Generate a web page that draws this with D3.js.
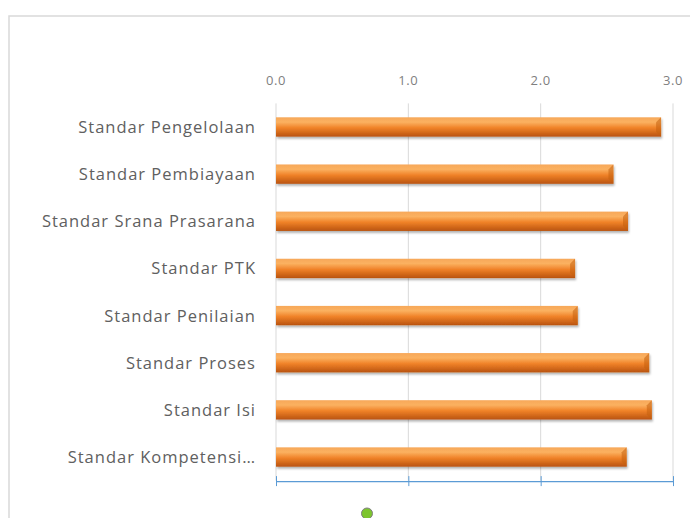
<!DOCTYPE html>
<html>
<head>
  <script src="https://cdnjs.cloudflare.com/ajax/libs/d3/7.8.5/d3.min.js"></script>
  <style>
    body { margin: 0; background: #fff; }
    svg { display: block; }
  </style>
</head>
<body>
  <div id="chart"></div>
  <script>
    // chart data, top to bottom
    var categories = ["Standar Pengelolaan", "Standar Pembiayaan", "Standar Srana Prasarana",
      "Standar PTK", "Standar Penilaian", "Standar Proses", "Standar Isi", "Standar Kompetensi\u2026"];
    var values = [2.91, 2.55, 2.66, 2.26, 2.28, 2.82, 2.84, 2.65];
    var tickValues = [0, 1, 2, 3];

    var width = 690, height = 518;
    var plotLeft = 276, plotRight = 673, plotTop = 103.4, plotBottom = 480.6;

    var svg = d3.select("#chart").append("svg")
      .attr("width", width)
      .attr("height", height);

    var defs = svg.append("defs");
    var grad = defs.append("linearGradient")
      .attr("id", "barGrad")
      .attr("x1", 0).attr("y1", 0).attr("x2", 0).attr("y2", 1);
    grad.append("stop").attr("offset", "0%").attr("stop-color", "#f7a859");
    grad.append("stop").attr("offset", "25%").attr("stop-color", "#fbb160");
    grad.append("stop").attr("offset", "55%").attr("stop-color", "#f08228");
    grad.append("stop").attr("offset", "100%").attr("stop-color", "#b9530f");

    var shadow = defs.append("filter").attr("id", "shadow")
      .attr("x", "-5%").attr("y", "-30%").attr("width", "110%").attr("height", "180%");
    shadow.append("feDropShadow")
      .attr("dx", 1).attr("dy", 2).attr("stdDeviation", 1.2)
      .attr("flood-color", "#000").attr("flood-opacity", 0.3);

    // chart frame
    svg.append("path")
      .attr("d", "M9," + height + "V16H" + width)
      .attr("fill", "none")
      .attr("stroke", "#d9d9d9")
      .attr("stroke-width", 1.5);

    var x = d3.scaleLinear().domain([0, 3]).range([plotLeft, plotRight]);
    var y = d3.scaleBand().domain(categories).range([plotTop, plotBottom])
      .paddingInner(0.59).paddingOuter(0.295);

    // gridlines
    svg.append("g").selectAll("line")
      .data(tickValues)
      .join("line")
      .attr("x1", d => x(d)).attr("x2", d => x(d))
      .attr("y1", plotTop).attr("y2", plotBottom)
      .attr("stroke", "#d9d9d9");

    // top tick labels
    svg.append("g").selectAll("text")
      .data(tickValues)
      .join("text")
      .attr("x", d => x(d))
      .attr("y", 85)
      .attr("text-anchor", "middle")
      .attr("font-family", "Open Sans, sans-serif")
      .attr("font-size", 13)
      .attr("letter-spacing", 0.6)
      .attr("fill", "#7f7f7f")
      .text(d => d3.format(".1f")(d));

    // bottom axis (no labels)
    var axis = svg.append("g")
      .attr("transform", "translate(0," + (plotBottom + 0.5) + ")")
      .call(d3.axisBottom(x).tickValues(tickValues).tickFormat("").tickSize(5).tickSizeOuter(0));
    axis.select(".domain").attr("stroke", "#5b9bd5").attr("stroke-width", 1.2);
    axis.selectAll(".tick line").attr("stroke", "#5b9bd5").attr("y1", -5).attr("y2", 5);

    // category labels
    svg.append("g").selectAll("text")
      .data(categories)
      .join("text")
      .attr("x", 256)
      .attr("y", d => y(d) + y.bandwidth() / 2)
      .attr("dy", "0.36em")
      .attr("text-anchor", "end")
      .attr("font-family", "Open Sans, sans-serif")
      .attr("font-size", 16.5)
      .attr("letter-spacing", 1)
      .attr("fill", "#606060")
      .text(d => d);

    // bars
    var bars = svg.append("g").selectAll("g")
      .data(values)
      .join("g")
      .attr("transform", (d, i) => "translate(0," + y(categories[i]) + ")");

    bars.append("rect")
      .attr("x", x(0))
      .attr("y", 0)
      .attr("width", d => x(d) - x(0))
      .attr("height", y.bandwidth())
      .attr("fill", "url(#barGrad)")
      .attr("filter", "url(#shadow)");

    // bevel on the bar end
    var bh = y.bandwidth(), bv = 5;
    bars.append("path")
      .attr("d", d => "M" + (x(d) - bv) + "," + bv + "L" + x(d) + ",0V" + bh + "L" + (x(d) - bv) + "," + (bh - bv) + "Z")
      .attr("fill", "#c4600f")
      .attr("opacity", 0.55);

    // legend marker (cut off at the bottom)
    svg.append("circle")
      .attr("cx", 367).attr("cy", 513.5).attr("r", 5.5)
      .attr("fill", "#7dc52e")
      .attr("stroke", "#7f7f7f")
      .attr("stroke-width", 1);
  </script>
</body>
</html>
